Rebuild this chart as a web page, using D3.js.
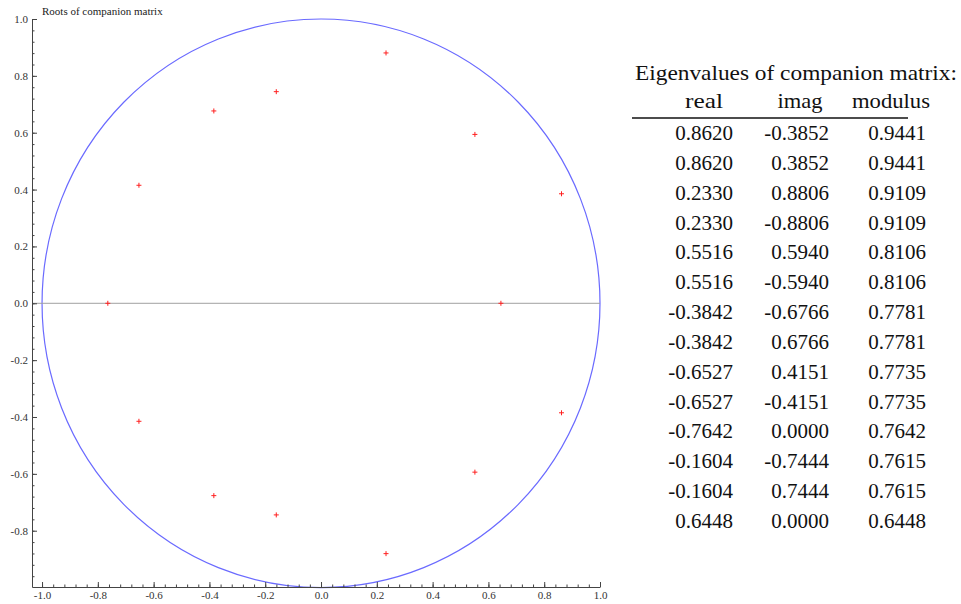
<!DOCTYPE html>
<html>
<head>
<meta charset="utf-8">
<script src="https://cdn.jsdelivr.net/npm/d3@7"></script>
<style>
  body { margin: 0; background: #fff; }
  svg { display: block; }
  text { font-family: "Liberation Serif", "Times New Roman", "DejaVu Serif", serif; }
  .tick text { font-size: 11px; fill: #333; }
  .domain, .tick line { stroke: #444; }
</style>
</head>
<body>
<svg id="chart" width="961" height="604"></svg>
<script>
// eigenvalues
const realParts = [0.8620, 0.8620, 0.2330, 0.2330, 0.5516, 0.5516, -0.3842, -0.3842, -0.6527, -0.6527, -0.7642, -0.1604, -0.1604, 0.6448];
const imagParts = [-0.3852, 0.3852, 0.8806, -0.8806, 0.5940, -0.5940, -0.6766, 0.6766, 0.4151, -0.4151, 0.0000, -0.7444, 0.7444, 0.0000];
const moduli = [0.9441, 0.9441, 0.9109, 0.9109, 0.8106, 0.8106, 0.7781, 0.7781, 0.7735, 0.7735, 0.7642, 0.7615, 0.7615, 0.6448];
const xTicks = [-1.0, -0.8, -0.6, -0.4, -0.2, 0.0, 0.2, 0.4, 0.6, 0.8, 1.0];
const yTicks = [-0.8, -0.6, -0.4, -0.2, 0.0, 0.2, 0.4, 0.6, 0.8, 1.0];
const headers = ["real", "imag", "modulus"];

const svg = d3.select("#chart");

const x = d3.scaleLinear().domain([-1.036, 1.0]).range([32, 600]);
const y = d3.scaleLinear().domain([-0.998, 1.0]).range([587, 19]);

// minor ticks every 0.04
const minorX = d3.range(-1.0, 1.0001, 0.04).filter(v => v >= -1.036);
const minorY = d3.range(-0.96, 1.0001, 0.04);

// unit circle
svg.append("ellipse")
    .attr("cx", x(0))
    .attr("cy", y(0))
    .attr("rx", x(1) - x(0))
    .attr("ry", y(0) - y(1))
    .attr("fill", "none")
    .attr("stroke", "#6a6aff")
    .attr("stroke-width", 1.2);

// zero line
svg.append("line")
    .attr("x1", x(-1.036)).attr("x2", x(1))
    .attr("y1", y(0)).attr("y2", y(0))
    .attr("stroke", "#a0a0a0")
    .attr("stroke-width", 1);

// axes
svg.append("g")
    .attr("transform", `translate(0,${y.range()[0]})`)
    .call(d3.axisBottom(x).tickValues(minorX).tickSize(-2.5).tickFormat(""))
    .call(g => g.select(".domain").remove());

svg.append("g")
    .attr("transform", `translate(0,${y.range()[0]})`)
    .call(d3.axisBottom(x).tickValues(xTicks).tickSizeInner(-5).tickSizeOuter(0).tickPadding(4)
        .tickFormat(d => d.toFixed(1)));

svg.append("g")
    .attr("transform", `translate(${x.range()[0]},0)`)
    .call(d3.axisLeft(y).tickValues(minorY).tickSize(-2.5).tickFormat(""))
    .call(g => g.select(".domain").remove());

svg.append("g")
    .attr("transform", `translate(${x.range()[0]},0)`)
    .call(d3.axisLeft(y).tickValues(yTicks).tickSizeInner(-5).tickSizeOuter(0).tickPadding(4)
        .tickFormat(d => d.toFixed(1)));

// d3 axes set font-family on the group; let the css rule win
svg.selectAll("g").attr("font-family", null);

svg.append("text")
    .attr("x", 42)
    .attr("y", 15)
    .attr("font-size", 11)
    .attr("fill", "#222")
    .text("Roots of companion matrix");

// roots as small red crosses
const roots = realParts.map((re, i) => ({ re, im: imagParts[i] }));
const cross = svg.append("g").selectAll("g")
    .data(roots)
    .join("g")
    .attr("transform", d => `translate(${x(d.re)},${y(d.im)})`);
cross.append("line").attr("x1", -2.5).attr("x2", 2.5).attr("stroke", "#ff2020").attr("stroke-width", 1);
cross.append("line").attr("y1", -2.5).attr("y2", 2.5).attr("stroke", "#ff2020").attr("stroke-width", 1);

// table on the right
const tbl = svg.append("g")
    .attr("font-size", 21)
    .attr("fill", "#111");

tbl.append("text")
    .attr("x", 635).attr("y", 80)
    .attr("textLength", 322).attr("lengthAdjust", "spacingAndGlyphs")
    .text("Eigenvalues of companion matrix:");

const headCenter = [704, 800, 891];
const headWidth = [38, 45, 78];
tbl.selectAll(".head")
    .data(headers)
    .join("text")
    .attr("class", "head")
    .attr("x", (d, i) => headCenter[i])
    .attr("y", 108)
    .attr("text-anchor", "middle")
    .attr("textLength", (d, i) => headWidth[i])
    .attr("lengthAdjust", "spacingAndGlyphs")
    .text(d => d);

tbl.append("line")
    .attr("x1", 632).attr("x2", 908)
    .attr("y1", 118).attr("y2", 118)
    .attr("stroke", "#111").attr("stroke-width", 1.3);

const rowY = d3.scaleLinear().domain([0, 13]).range([140, 528]);
const colRight = [733, 829, 926];
const rows = realParts.map((re, i) => [re, imagParts[i], moduli[i]]);

const rowG = tbl.selectAll(".row")
    .data(rows)
    .join("g")
    .attr("class", "row")
    .attr("transform", (d, i) => `translate(0,${rowY(i)})`);

rowG.selectAll("text")
    .data(d => d)
    .join("text")
    .attr("x", (d, i) => colRight[i])
    .attr("text-anchor", "end")
    .text(d => d.toFixed(4));
</script>
</body>
</html>
